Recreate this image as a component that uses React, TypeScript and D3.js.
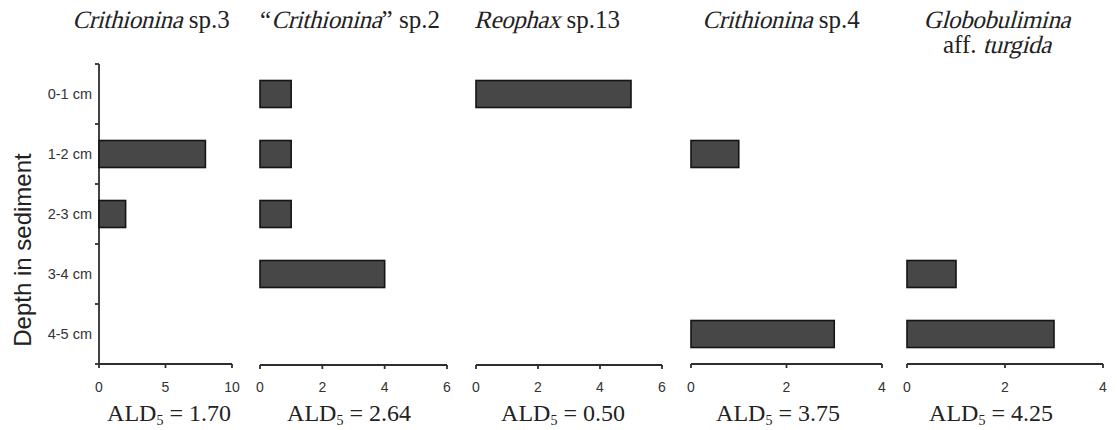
import React from "react";
import * as d3 from "d3";

const depths = ["0-1 cm", "1-2 cm", "2-3 cm", "3-4 cm", "4-5 cm"];
const crithionina3 = [0, 8, 2, 0, 0];
const crithionina2 = [1, 1, 1, 4, 0];
const reophax13 = [5, 0, 0, 0, 0];
const crithionina4 = [0, 1, 0, 0, 3];
const globobulimina = [0, 0, 0, 1, 3];
const xMaxes = [10, 6, 6, 4, 4];
const xTickValues = [[0, 5, 10], [0, 2, 4, 6], [0, 2, 4, 6], [0, 2, 4], [0, 2, 4]];
const aldValues = ["1.70", "2.64", "0.50", "3.75", "4.25"];

type Part = { t: string; i?: boolean };
const titles: Part[][][] = [
  [[{ t: "Crithionina", i: true }, { t: " sp.3" }]],
  [[{ t: "\u201C" }, { t: "Crithionina", i: true }, { t: "\u201D sp.2" }]],
  [[{ t: "Reophax", i: true }, { t: " sp.13" }]],
  [[{ t: "Crithionina", i: true }, { t: " sp.4" }]],
  [[{ t: "Globobulimina", i: true }], [{ t: "aff. " }, { t: "turgida", i: true }]],
];
const seriesList = [crithionina3, crithionina2, reophax13, crithionina4, globobulimina];

// layout
const panels = [
  { x0: 99, x1: 232, axisY: 364, titleX: 151, aldX: 169 },
  { x0: 260, x1: 447, axisY: 365, titleX: 350, aldX: 349 },
  { x0: 476, x1: 662, axisY: 365, titleX: 547, aldX: 563 },
  { x0: 691, x1: 882, axisY: 364, titleX: 781, aldX: 778 },
  { x0: 907, x1: 1103, axisY: 364, titleX: 997, aldX: 991 },
];
const yTop = 64;
const yBottom = 364;
const axisColor = "#2e2e2e";
const serif = '"Liberation Serif", "Times New Roman", Times, serif';
const sans = '"Liberation Sans", Arial, Helvetica, sans-serif';
const titleSize = 25;

let ctx: CanvasRenderingContext2D | null = null;
function measure(text: string, size: number): number {
  if (!ctx) {
    const c = document.createElement("canvas");
    ctx = c.getContext("2d");
  }
  if (!ctx) return text.length * size * 0.5;
  ctx.font = `${size}px ${serif}`;
  return ctx.measureText(text).width;
}

function Title({ parts, cx, baseline }: { parts: Part[]; cx: number; baseline: number }) {
  const widths = parts.map((p) => measure(p.t, titleSize) * (p.i ? 0.97 : 1));
  const total = d3.sum(widths);
  let cursor = cx - total / 2;
  return (
    <g>
      {parts.map((p, k) => {
        const x = cursor;
        cursor += widths[k];
        return (
          <text
            key={k}
            transform={`translate(${x},${baseline})${p.i ? " skewX(-15)" : ""}`}
            textLength={p.i ? widths[k] : undefined}
            style={{ fontFamily: serif, fontSize: `${titleSize}px`, whiteSpace: "pre" }}
            fill="#222"
          >
            {p.t}
          </text>
        );
      })}
    </g>
  );
}

export default function App() {
  const y = d3.scaleBand<string>().domain(depths).range([yTop, yBottom]).paddingInner(0.55).paddingOuter(0.275);
  const step = y.step();
  const boundaries = d3.range(depths.length + 1).map((i) => yTop + i * step);

  return (
    <svg width={1117} height={430} style={{ position: "absolute", left: 0, top: 0, background: "#fff" }}>
      {/* y axis label */}
      <text
        transform={`translate(31,${250}) rotate(-90)`}
        textAnchor="middle"
        style={{ fontFamily: sans, fontSize: "24px" }}
        fill="#222"
      >
        Depth in sediment
      </text>
      {/* y axis */}
      <line x1={panels[0].x0} x2={panels[0].x0} y1={yTop} y2={yBottom} stroke={axisColor} strokeWidth={1.8} />
      {boundaries.map((b, i) => (
        <line key={i} x1={panels[0].x0 - 4} x2={panels[0].x0} y1={b} y2={b} stroke={axisColor} strokeWidth={1.8} />
      ))}
      {depths.map((d) => (
        <text
          key={d}
          x={92}
          y={(y(d) as number) + y.bandwidth() / 2}
          dy="0.35em"
          textAnchor="end"
          style={{ fontFamily: sans, fontSize: "14.5px" }}
          fill="#333"
        >
          {d}
        </text>
      ))}
      {panels.map((p, pi) => {
        const x = d3.scaleLinear().domain([0, xMaxes[pi]]).range([p.x0, p.x1]);
        const vals = seriesList[pi];
        return (
          <g key={pi}>
            {/* title */}
            {titles[pi].map((line, li) => (
              <Title key={li} parts={line} cx={p.titleX} baseline={28 + li * 25} />
            ))}
            {/* bars */}
            {vals.map((v, i) =>
              v > 0 ? (
                <rect
                  key={i}
                  x={x(0)}
                  y={y(depths[i])}
                  width={x(v) - x(0)}
                  height={y.bandwidth()}
                  fill="#474747"
                  stroke="#151515"
                  strokeWidth={1.6}
                />
              ) : null
            )}
            {/* x axis */}
            <line x1={p.x0} x2={p.x1} y1={p.axisY} y2={p.axisY} stroke={axisColor} strokeWidth={1.8} />
            {xTickValues[pi].map((t) => (
              <g key={t}>
                <line x1={x(t)} x2={x(t)} y1={p.axisY} y2={p.axisY + 4} stroke={axisColor} strokeWidth={1.8} />
                <text
                  x={x(t)}
                  y={392}
                  textAnchor="middle"
                  style={{ fontFamily: sans, fontSize: "14px" }}
                  fill="#333"
                >
                  {t}
                </text>
              </g>
            ))}
            {/* ALD label */}
            <text x={p.aldX} y={421} textAnchor="middle" style={{ fontFamily: serif, fontSize: "24px" }} fill="#222">
              ALD
              <tspan style={{ fontSize: "14px" }} dy={4}>5</tspan>
              <tspan dy={-4}>{" = " + aldValues[pi]}</tspan>
            </text>
          </g>
        );
      })}
    </svg>
  );
}
